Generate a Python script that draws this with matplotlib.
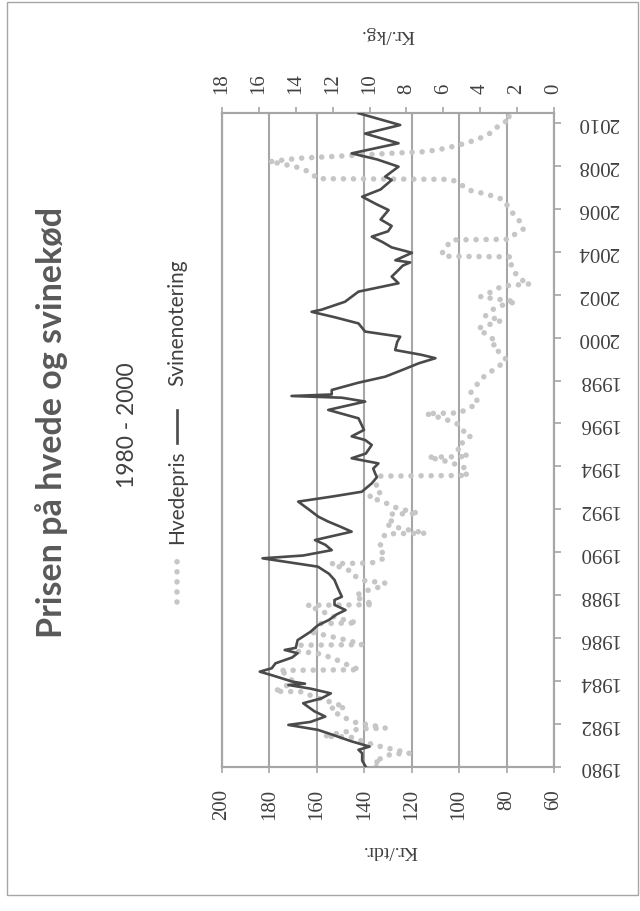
import matplotlib
matplotlib.use("Agg")
import matplotlib.pyplot as plt
from matplotlib.lines import Line2D
from matplotlib.patches import Rectangle

# Hvedepris (kr./tdr.)
wheat_years = [1980.00, 1980.15, 1980.30, 1980.45, 1980.60, 1980.64, 1980.80, 1980.95, 1981.10, 1981.25,
               1981.40, 1981.43, 1981.55, 1981.70, 1981.78, 1981.81, 1981.95, 1982.04, 1982.20, 1982.35,
               1982.55, 1982.74, 1982.77, 1982.95, 1983.12, 1983.30, 1983.50, 1983.53, 1983.70, 1983.98,
               1984.20, 1984.40, 1984.50, 1984.53, 1984.70, 1984.91, 1985.10, 1985.30, 1985.38, 1985.55,
               1985.67, 1985.70, 1985.90, 1986.10, 1986.30, 1986.50, 1986.68, 1986.71, 1986.95, 1987.16,
               1987.35, 1987.53, 1987.56, 1987.75, 1987.93, 1988.15, 1988.40, 1988.56, 1988.70, 1988.90,
               1989.10, 1989.30, 1989.47, 1989.50, 1989.70, 1989.90, 1990.10, 1990.40, 1990.70, 1990.86,
               1990.89, 1991.10, 1991.30, 1991.50, 1991.78, 1991.81, 1992.05, 1992.30, 1992.59, 1992.80,
               1993.10, 1993.35, 1993.55, 1993.58, 1993.75, 1993.95, 1994.20, 1994.43, 1994.46, 1994.70,
               1994.95, 1995.20, 1995.45, 1995.70, 1996.00, 1996.20, 1996.46, 1996.49, 1996.70, 1996.95,
               1997.20, 1997.45, 1997.75, 1998.00, 1998.25, 1998.60, 1998.96, 1999.20, 1999.42, 1999.60,
               1999.80, 2000.10, 2000.43, 2000.65, 2000.80, 2001.00, 2001.30, 2001.50, 2001.67, 2001.90,
               2002.20, 2002.40, 2002.50, 2002.70, 2002.95, 2003.30, 2003.55, 2003.76, 2003.79, 2004.00,
               2004.20, 2004.40, 2004.55, 2004.58, 2004.86, 2005.05, 2005.24, 2005.48, 2005.70, 2005.94,
               2006.20, 2006.41, 2006.60, 2006.72, 2006.87, 2007.11, 2007.30, 2007.37, 2007.40, 2007.65,
               2007.90, 2008.10, 2008.19, 2008.35, 2008.50, 2008.60, 2008.66, 2008.81, 2008.97, 2009.20,
               2009.35, 2009.57, 2009.80, 2010.00, 2010.15, 2010.30, 2010.45]
wheat_price = [135, 133, 136, 131, 129, 121, 127, 133, 138, 142,
               146, 157, 152, 145, 142, 131, 137, 143, 146, 150,
               152, 154, 148, 152, 157, 162, 166, 178, 174, 170,
               172, 174, 176, 142, 146, 150, 154, 160, 168, 168,
               168, 141, 147, 155, 163, 159, 159, 143, 152, 156,
               160, 164, 136, 140, 144, 141, 133, 131, 141, 144,
               145, 150, 154, 137, 132, 131, 134, 133, 132, 131,
               114, 124, 131, 128, 129, 117, 126, 131, 138, 133,
               135, 134, 133, 96, 99, 98, 104, 113, 96, 100,
               101, 97, 95, 99, 101, 106, 114, 100, 96, 92,
               93, 95, 93, 91, 89, 84, 80, 82, 84, 86,
               84, 88, 92, 86, 82, 89, 86, 82, 76, 91,
               85, 82, 70, 74, 76, 78, 78, 78, 107, 107,
               106, 104, 103, 79, 76, 73, 73, 75, 77, 78,
               80, 81, 86, 90, 96, 99, 102, 104, 160, 162,
               167, 175, 180, 168, 142, 126, 114, 106, 100, 93,
               90, 86, 84, 82, 78, 79, 82]

# Svinenotering (kr./kg.)
pig_years = [1980.00, 1980.30, 1980.64, 1980.80, 1980.95, 1981.20, 1981.50, 1981.73, 1981.96, 1982.10,
             1982.35, 1982.60, 1982.97, 1983.20, 1983.43, 1983.65, 1983.82, 1983.88, 1983.98, 1984.25,
             1984.44, 1984.60, 1984.83, 1985.10, 1985.30, 1985.45, 1985.55, 1985.91, 1986.30, 1986.60,
             1986.85, 1987.10, 1987.31, 1987.55, 1987.78, 1987.93, 1988.30, 1988.71, 1989.00, 1989.33,
             1989.72, 1989.85, 1990.10, 1990.35, 1990.57, 1990.96, 1991.20, 1991.43, 1991.66, 1992.00,
             1992.36, 1992.60, 1992.82, 1993.21, 1993.50, 1993.68, 1993.90, 1994.14, 1994.38, 1994.60,
             1995.00, 1995.23, 1995.40, 1995.70, 1996.24, 1996.63, 1997.02, 1997.20, 1997.28, 1997.35,
             1997.56, 1997.90, 1998.18, 1998.50, 1998.80, 1999.04, 1999.20, 1999.42, 1999.80, 2000.04,
             2000.28, 2000.66, 2000.95, 2001.20, 2001.30, 2001.67, 2002.14, 2002.53, 2002.84, 2003.15,
             2003.35, 2003.50, 2003.60, 2003.95, 2004.20, 2004.45, 2004.70, 2004.95, 2005.20, 2005.50,
             2005.94, 2006.20, 2006.56, 2006.90, 2007.34, 2007.50, 2007.96, 2008.30, 2008.58, 2009.05,
             2009.50, 2009.90, 2010.45]
pig_price = [10.2, 10.4, 10.4, 10.6, 10.0, 11.0, 12.0, 12.8, 14.4, 13.2,
             12.4, 13.0, 13.6, 12.6, 12.1, 13.2, 14.4, 13.5, 14.2, 15.2,
             15.95, 15.3, 15.1, 14.2, 13.9, 14.6, 14.0, 13.9, 13.2, 12.8,
             12.2, 11.8, 11.3, 11.9, 11.9, 11.5, 11.7, 11.9, 12.2, 12.8,
             15.8, 13.6, 12.05, 12.4, 12.96, 10.97, 11.6, 12.24, 12.78, 13.3,
             13.87, 12.0, 10.42, 9.88, 9.6, 9.7, 9.8, 9.52, 10.97, 10.2,
             9.88, 10.24, 10.97, 10.3, 10.6, 12.24, 10.24, 11.5, 14.23, 12.05,
             12.05, 10.6, 9.15, 8.2, 7.34, 6.43, 7.2, 8.61, 8.5, 8.34,
             10.24, 10.6, 11.9, 13.14, 12.6, 11.33, 10.6, 8.43, 8.8, 8.43,
             8.2, 7.8, 8.6, 7.7, 8.8, 9.3, 9.88, 9.0, 8.8, 9.4,
             8.97, 9.6, 10.4, 9.4, 8.8, 9.15, 8.43, 9.6, 10.97, 8.43,
             10.24, 8.34, 10.6]

year_ticks = list(range(1980, 2011, 2))
tdr_ticks = [200, 180, 160, 140, 120, 100, 80, 60]
kg_ticks = [18, 16, 14, 12, 10, 8, 6, 4, 2, 0]

grey = '#a6a6a6'
txt = '#404040'
dot_grey = '#c6c6c6'
num_font = 'Liberation Serif'
dots = (0, (0.01, 1.8))

fig = plt.figure(figsize=(6.4, 9.11), dpi=100)
W, H = 640, 911

# the chart is turned on its side: time runs upward, prices run right-to-left
ax = fig.add_axes([222 / W, 1 - 767 / H, (554 - 222) / W, (767 - 113) / H])
ax.set_xlim(200, 60)
ax.set_ylim(1980, 2010.46)
ax.grid(axis='x', color=grey, linewidth=1.5)
ax.set_axisbelow(True)
ax.plot(wheat_price, wheat_years, color=dot_grey, linewidth=4.0,
        linestyle=dots, dash_capstyle='round', zorder=2)

ax.set_xticks(tdr_ticks)
ax.set_xticklabels([str(v) for v in tdr_ticks], rotation=90, family=num_font,
                   fontsize=15, color=txt)
ax.tick_params(axis='x', direction='out', length=4, width=1.2, color=grey, pad=12)

ax.yaxis.tick_right()
ax.set_yticks(year_ticks)
ax.set_yticklabels([str(y) for y in year_ticks], rotation=180, family=num_font,
                   fontsize=15, color=txt)
for lab in ax.get_yticklabels():
    lab.set_va('center')
ax.tick_params(axis='y', direction='out', length=5, width=1.2, color=grey, pad=12)

ax2 = ax.twiny()
ax2.set_xlim(18, 0)
ax2.plot(pig_price, pig_years, color='#4a4a4a', linewidth=1.9, zorder=3)
ax2.set_xticks(kg_ticks)
ax2.set_xticklabels([str(v) for v in kg_ticks], rotation=90, family=num_font,
                    fontsize=15, color=txt)
ax2.tick_params(axis='x', direction='out', length=4, width=1.2, color=grey, pad=10)

for a in (ax, ax2):
    for sp in a.spines.values():
        sp.set_color(grey)
        sp.set_linewidth(1.5)

# axis titles (upside down like the tick labels of the year axis)
fig.text(387 / W, 1 - 35 / H, 'Kr./kg.', rotation=180, ha='center', va='center',
         family=num_font, fontsize=14, color=txt)
fig.text(390 / W, 1 - 850 / H, 'Kr./tdr.', rotation=180, ha='center', va='center',
         family=num_font, fontsize=14, color=txt)

# title, subtitle and legend run bottom-to-top on the left
fig.text(52 / W, 1 - 422 / H, 'Prisen på hvede og svinekød', rotation=90,
         ha='center', va='center', family='Lato', fontweight='bold', fontsize=24.5, color='#595959')
fig.text(128 / W, 1 - 425 / H, '1980 - 2000', rotation=90, ha='center', va='center',
         family='Lato', fontsize=16.5, color=txt)
fig.text(177 / W, 1 - 497 / H, 'Hvedepris', rotation=90, ha='center', va='center',
         family='Lato', fontsize=15, color=txt)
fig.text(177 / W, 1 - 323 / H, 'Svinenotering', rotation=90, ha='center', va='center',
         family='Lato', fontsize=15, color=txt)
fig.lines.append(Line2D([177 / W, 177 / W], [1 - 602 / H, 1 - 560 / H], transform=fig.transFigure,
                        color=dot_grey, linewidth=4.0, linestyle=dots, dash_capstyle='round'))
fig.lines.append(Line2D([177 / W, 177 / W], [1 - 443 / H, 1 - 410 / H], transform=fig.transFigure,
                        color='#4a4a4a', linewidth=1.9))

# outer frame round the whole chart
fig.patches.append(Rectangle((7 / W, 1 - 895 / H), (638 - 7) / W, (895 - 2) / H,
                             transform=fig.transFigure, fill=False, edgecolor=grey, linewidth=1.0))

fig.savefig('out.png', dpi=100)
